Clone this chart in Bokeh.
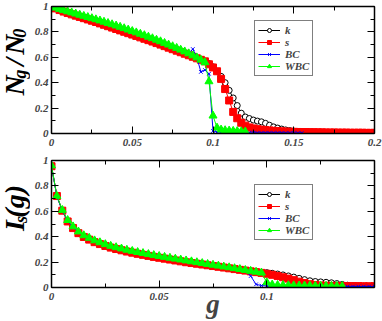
import math
from bokeh.plotting import figure
from bokeh.models import Range1d, FixedTicker, LinearAxis, Label, CustomJSTickFormatter
from bokeh.layouts import column, row
from bokeh.embed import file_html
from bokeh.resources import INLINE

FONT = "Liberation Serif"

# ---------------- data ----------------
G_TOP = [0.0, 0.0025, 0.005, 0.0075, 0.01, 0.0125, 0.015, 0.0175, 0.02, 0.0225,
         0.025, 0.0275, 0.03, 0.0325, 0.035, 0.0375, 0.04, 0.0425, 0.045, 0.0475,
         0.05, 0.0525, 0.055, 0.0575, 0.06, 0.0625, 0.065, 0.0675, 0.07, 0.0725,
         0.075, 0.0775, 0.08, 0.0825, 0.085, 0.0875, 0.09, 0.0925, 0.095, 0.0975,
         0.1, 0.1025, 0.105, 0.1075, 0.11, 0.1125, 0.115, 0.1175, 0.12, 0.1225,
         0.125, 0.1275, 0.13, 0.1325, 0.135, 0.1375, 0.14, 0.1425, 0.145, 0.1475,
         0.15, 0.1525, 0.155, 0.1575, 0.16, 0.1625, 0.165, 0.1675, 0.17, 0.1725,
         0.175, 0.1775, 0.18, 0.1825, 0.185, 0.1875, 0.19, 0.1925, 0.195, 0.1975,
         0.2]

K_TOP = [1.0, 0.986, 0.974, 0.962, 0.951, 0.94, 0.93, 0.92, 0.91, 0.9,
         0.89, 0.88, 0.869, 0.858, 0.847, 0.836, 0.825, 0.814, 0.803, 0.792,
         0.781, 0.77, 0.759, 0.748, 0.737, 0.726, 0.714, 0.702, 0.69, 0.678,
         0.666, 0.654, 0.642, 0.63, 0.618, 0.606, 0.594, 0.582, 0.57, 0.55,
         0.525, 0.49, 0.45, 0.40, 0.34, 0.28, 0.22, 0.16, 0.13, 0.118,
         0.106, 0.098, 0.092, 0.08, 0.065, 0.052, 0.043, 0.035, 0.028, 0.023,
         0.019, 0.016, 0.014, 0.012, 0.011, 0.01, 0.009, 0.008, 0.008, 0.007,
         0.007, 0.006, 0.006, 0.006, 0.005, 0.005, 0.005, 0.005, 0.004, 0.004,
         0.004]

S_TOP = [1.0, 0.985, 0.972, 0.96, 0.949, 0.938, 0.928, 0.918, 0.908, 0.898,
         0.888, 0.878, 0.867, 0.856, 0.845, 0.834, 0.823, 0.812, 0.801, 0.79,
         0.779, 0.768, 0.757, 0.746, 0.735, 0.724, 0.712, 0.7, 0.688, 0.676,
         0.664, 0.652, 0.64, 0.628, 0.616, 0.604, 0.592, 0.58, 0.568, 0.545,
         0.52, 0.49, 0.43, 0.35, 0.26, 0.17, 0.12, 0.085, 0.062, 0.048,
         0.04, 0.034, 0.03, 0.027, 0.024, 0.021, 0.019, 0.017, 0.015, 0.014,
         0.013, 0.012, 0.011, 0.011, 0.01, 0.01, 0.009, 0.009, 0.008, 0.008,
         0.008, 0.007, 0.007, 0.007, 0.006, 0.006, 0.006, 0.006, 0.005, 0.005,
         0.005]

BC_TOP = [1.0, 0.985, 0.974, 0.964, 0.955, 0.946, 0.937, 0.928, 0.919, 0.91,
          0.901, 0.892, 0.883, 0.873, 0.863, 0.853, 0.843, 0.833, 0.822, 0.811,
          0.8, 0.789, 0.778, 0.767, 0.755, 0.743, 0.731, 0.719, 0.706, 0.693,
          0.68, 0.667, 0.653, 0.64, 0.63, 0.665, 0.6, 0.485, 0.5, 0.47,
          0.02, 0.012, 0.01, 0.009, 0.008, 0.008, 0.007, 0.007, 0.006, 0.006,
          0.006, 0.005, 0.005, 0.005, 0.005, 0.005, 0.005, 0.005, 0.004, 0.004,
          0.004, 0.004, 0.004]

WBC_TOP = [1.0, 0.99, 0.98, 0.97, 0.961, 0.952, 0.943, 0.934, 0.925, 0.916,
           0.907, 0.898, 0.889, 0.879, 0.869, 0.859, 0.849, 0.839, 0.828, 0.817,
           0.806, 0.795, 0.784, 0.773, 0.761, 0.749, 0.737, 0.725, 0.712, 0.699,
           0.686, 0.673, 0.659, 0.645, 0.63, 0.614, 0.598, 0.58, 0.56, 0.41,
           0.14, 0.045, 0.03, 0.025, 0.022, 0.02, 0.018, 0.016, 0.015]

G_BOT = G_TOP[:61]

K_BOT = [0.958, 0.722, 0.607, 0.522, 0.47, 0.43, 0.4, 0.379, 0.359, 0.344,
         0.329, 0.316, 0.305, 0.295, 0.285, 0.276, 0.267, 0.259, 0.251, 0.243,
         0.236, 0.229, 0.222, 0.215, 0.208, 0.201, 0.195, 0.189, 0.183, 0.177,
         0.171, 0.165, 0.159, 0.153, 0.147, 0.141, 0.135, 0.13, 0.125, 0.121,
         0.117, 0.112, 0.106, 0.099, 0.091, 0.082, 0.072, 0.062, 0.053, 0.047,
         0.044, 0.041, 0.037, 0.031, 0.024, 0.018, 0.014, 0.012, 0.011, 0.01,
         0.01]

S_BOT = [0.955, 0.72, 0.605, 0.52, 0.468, 0.428, 0.398, 0.377, 0.357, 0.342,
         0.327, 0.314, 0.303, 0.293, 0.283, 0.274, 0.265, 0.257, 0.249, 0.241,
         0.234, 0.227, 0.22, 0.213, 0.206, 0.199, 0.193, 0.187, 0.181, 0.175,
         0.169, 0.163, 0.157, 0.151, 0.145, 0.139, 0.133, 0.127, 0.121, 0.115,
         0.108, 0.1, 0.091, 0.081, 0.07, 0.058, 0.046, 0.035, 0.026, 0.02,
         0.016, 0.014, 0.013, 0.012, 0.012, 0.011, 0.011, 0.011, 0.01, 0.01,
         0.01]

BC_BOT = [0.955, 0.715, 0.605, 0.525, 0.475, 0.436, 0.406, 0.386, 0.366, 0.351,
          0.336, 0.323, 0.312, 0.302, 0.292, 0.283, 0.274, 0.266, 0.258, 0.25,
          0.243, 0.236, 0.229, 0.222, 0.215, 0.208, 0.201, 0.194, 0.187, 0.18,
          0.174, 0.167, 0.16, 0.154, 0.147, 0.14, 0.133, 0.09, 0.025, 0.015,
          0.013, 0.012, 0.012, 0.011, 0.011, 0.01, 0.01, 0.01, 0.01, 0.009,
          0.009, 0.009, 0.009, 0.009, 0.008, 0.008, 0.008, 0.008, 0.008, 0.008,
          0.008]

WBC_BOT = [0.96, 0.72, 0.61, 0.53, 0.48, 0.44, 0.41, 0.39, 0.37, 0.355,
           0.34, 0.327, 0.316, 0.306, 0.296, 0.287, 0.278, 0.27, 0.262, 0.254,
           0.247, 0.24, 0.233, 0.226, 0.219, 0.212, 0.205, 0.198, 0.191, 0.184,
           0.178, 0.171, 0.164, 0.158, 0.151, 0.144, 0.137, 0.13, 0.123, 0.116,
           0.04, 0.022, 0.019, 0.018, 0.017, 0.016, 0.015, 0.015, 0.014, 0.013,
           0.013, 0.012, 0.012, 0.011, 0.011]

Y_TICKS = [0, 0.2, 0.4, 0.6, 0.8, 1]
Y_MINOR = [0.1, 0.3, 0.5, 0.7, 0.9]
Y_LABELS = {0: "0", 0.2: "0.2", 0.4: "0.4", 0.6: "0.6", 0.8: "0.8", 1: "1"}
X_TICKS_TOP = [0, 0.05, 0.1, 0.15, 0.2]
X_MINOR_TOP = [0.025, 0.075, 0.125, 0.175]
X_LABELS_TOP = {0: "0", 0.05: "0.05", 0.1: "0.1", 0.15: "0.15", 0.2: "0.2"}
X_TICKS_BOT = [0, 0.05, 0.1]
X_MINOR_BOT = [0.025, 0.075, 0.125]
X_LABELS_BOT = {0: "0", 0.05: "0.05", 0.1: "0.1"}

LAB_W = 30


def style_axis(ax, labels):
    ax.major_tick_in = 7
    ax.major_tick_out = 0
    ax.minor_tick_in = 4
    ax.minor_tick_out = 0
    ax.axis_line_width = 1.5
    ax.major_tick_line_width = 1
    ax.minor_tick_line_width = 1
    ax.major_label_text_font = FONT
    ax.major_label_text_font_style = "bold italic"
    if labels is None:
        ax.formatter = CustomJSTickFormatter(code="return ''")
        ax.major_label_text_font_size = "1px"
        ax.major_label_standoff = 0
    else:
        ax.major_label_text_font_size = "11px"
        ax.major_label_overrides = labels


def make_fig(height, xmax, xt, xm, xl, top, bottom):
    p = figure(width=382 - LAB_W, height=height, x_range=Range1d(0, xmax),
               y_range=Range1d(0, 1), output_backend="svg",
               toolbar_location=None, min_border_left=51 - LAB_W,
               min_border_right=8, min_border_top=top,
               min_border_bottom=bottom)
    p.xgrid.visible = False
    p.ygrid.visible = False
    p.outline_line_color = "black"
    p.background_fill_color = "white"
    p.border_fill_color = "white"
    xtick = FixedTicker(ticks=xt, minor_ticks=xm)
    ytick = FixedTicker(ticks=Y_TICKS, minor_ticks=Y_MINOR)
    p.below[0].ticker = xtick
    p.left[0].ticker = ytick
    style_axis(p.below[0], xl)
    style_axis(p.left[0], Y_LABELS)
    p.below[0].major_label_standoff = 5
    p.left[0].major_label_standoff = 3
    ta = LinearAxis(ticker=xtick)
    ra = LinearAxis(ticker=ytick)
    style_axis(ta, None)
    style_axis(ra, None)
    p.add_layout(ta, "above")
    p.add_layout(ra, "right")
    return p


def draw(p, g, data):
    k, s, bc, wbc = data
    p.line(g[:len(k)], k, color="black", line_width=1, legend_label="k")
    p.scatter(g[:len(k)], k, marker="circle", size=6, fill_color="white",
              line_color="black", line_width=1, legend_label="k")
    p.line(g[:len(s)], s, color="red", line_width=1, legend_label="s")
    p.scatter(g[:len(s)], s, marker="square", size=7, fill_color="red",
              line_color="red", legend_label="s")
    p.line(g[:len(bc)], bc, color="blue", line_width=1, legend_label="BC")
    p.scatter(g[:len(bc)], bc, marker="x", size=5, line_color="blue",
              line_width=1, legend_label="BC")
    p.line(g[:len(wbc)], wbc, color="#00ff00", line_width=1, legend_label="WBC")
    p.scatter(g[:len(wbc)], wbc, marker="triangle", size=8, fill_color="#00ff00",
              line_color="#00ff00", legend_label="WBC")
    lg = p.legend[0]
    lg.border_line_color = "black"
    lg.border_line_width = 1
    lg.background_fill_color = "white"
    lg.background_fill_alpha = 1
    lg.label_text_font = FONT
    lg.label_text_font_style = "bold italic"
    lg.label_text_font_size = "11px"
    lg.glyph_width = 22
    lg.glyph_height = 10
    lg.label_height = 10
    lg.label_standoff = 5
    lg.spacing = 0
    lg.padding = 3
    lg.margin = 0


def label_fig(height):
    f = figure(width=LAB_W, height=height, x_range=Range1d(0, LAB_W),
               y_range=Range1d(0, height), output_backend="svg",
               toolbar_location=None, min_border=0)
    f.axis.visible = False
    f.grid.visible = False
    f.outline_line_color = None
    f.background_fill_color = "white"
    f.border_fill_color = "white"
    return f


def lab(f, text, x, y, size):
    f.add_layout(Label(x=x, y=y, text=text, angle=math.pi / 2,
                       text_font=FONT, text_font_style="bold italic",
                       text_font_size=size, text_align="left",
                       text_baseline="middle", text_color="black"))


H1, H2 = 150, 171

p1 = make_fig(H1, 0.2, X_TICKS_TOP, X_MINOR_TOP, X_LABELS_TOP, 6, 17)
draw(p1, G_TOP, (K_TOP, S_TOP, BC_TOP, WBC_TOP))
p1.legend[0].location = (203, 57)

p2 = make_fig(H2, 0.15, X_TICKS_BOT, X_MINOR_BOT, X_LABELS_BOT, 10, 33)
draw(p2, G_BOT, (K_BOT, S_BOT, BC_BOT, WBC_BOT))
p2.legend[0].location = (203, 47)
p2.below[0].axis_label = "g"
p2.below[0].axis_label_text_font = FONT
p2.below[0].axis_label_text_font_style = "bold italic"
p2.below[0].axis_label_text_font_size = "27px"
p2.below[0].axis_label_standoff = -14

# y label of top panel: N_g / N_0  (page y -> data y = H1 - page_y)
l1 = label_fig(H1)
lab(l1, "N", 14, 45, "28px")
lab(l1, "g", 19, 65, "18px")
lab(l1, "/", 14, 80, "28px")
lab(l1, "N", 14, 93, "28px")
lab(l1, "0", 19, 113, "18px")

# y label of bottom panel: I_s(g)
l2 = label_fig(H2)
lab(l2, "I", 14, 76, "28px")
lab(l2, "s", 20, 87, "18px")
lab(l2, "(g)", 14, 94, "28px")

layout = column(row(l1, p1, spacing=0), row(l2, p2, spacing=0), spacing=0)
open("out.html", "w").write(file_html(layout, INLINE))
